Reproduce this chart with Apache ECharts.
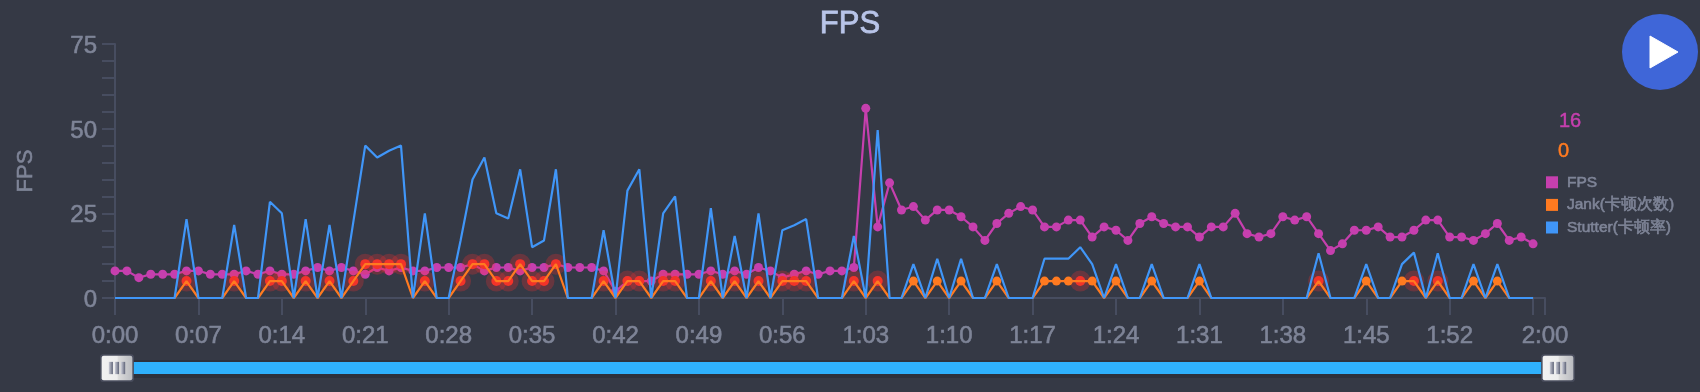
<!DOCTYPE html>
<html><head><meta charset="utf-8">
<style>html,body{margin:0;padding:0;background:#353945}#c{width:1700px;height:392px}</style>
<script src="https://cdn.jsdelivr.net/npm/echarts@6/dist/echarts.min.js"></script>
</head><body><div id="c"></div>
<script>
const tickLabels = Array.from({length:121},(_,s)=>Math.floor(s/60)+':'+String(s%60).padStart(2,'0'));
const fps = [8,8,6,7,7,7,8,8,7,7,7,8,7,8,7,7,8,9,8,9,8,7,9,8,9,8,8,9,9,9,10,8,9,9,8,9,9,10,9,9,9,8,2,5,5,5,7,7,7,7,8,7,8,7,9,8,6,7,8,7,8,8,9,56,21,34,26,27,23,26,26,24,21,17,22,25,27,26,21,21,23,23,18,21,20,17,22,24,22,21,21,18,21,21,25,19,18,19,24,23,24,19,14,16,20,20,21,18,18,20,23,23,18,18,17,19,22,17,18,16];
const jank = [0,0,0,0,0,0,5,0,0,0,5,0,0,5,5,0,5,0,5,0,5,10,10,10,10,0,5,0,0,5,10,10,5,5,10,5,5,10,0,0,0,5,0,5,5,0,5,5,0,0,5,0,5,0,5,0,5,5,5,0,0,0,5,0,5,0,0,5,0,5,0,5,0,0,5,0,0,0,5,5,5,5,5,0,5,0,0,5,0,0,0,5,0,0,0,0,0,0,0,0,0,5,0,0,0,5,0,0,5,5,0,5,0,0,5,0,5,0,0,0];
const stutter = [0,0,0,0,0,0,23.3,0,0,0,21.6,0,0,28.4,25,0,23.3,0,21.6,0,22.5,45,41.5,43.5,45,0,25,0,0,17,35,41.5,25,23.5,38,15,17,38,0,0,0,20,0,31.7,38,0,25,30,0,0,26.5,0,18.3,0,25,0,20,21.5,23.3,0,0,0,18.3,0,49.6,0,0,10,0,11.6,0,11.6,0,0,10,0,0,0,11.6,11.6,11.6,15,10,0,10,0,0,10,0,0,0,10,0,0,0,0,0,0,0,0,0,13.2,0,0,0,10,0,0,10,13.4,0,13.2,0,0,10,0,10,0,0,0];
const severeAfterSpike = [81,101,109,111];
const lastSevere = 64;

const isSevere = i => jank[i]>0 && (i<=lastSevere || severeAfterSpike.includes(i));
const severePts = jank.map((v,i)=>[i,v]).filter(p=>isSevere(p[0]));
const plainPts = jank.map((v,i)=>[i,v]).filter(p=>p[1]>0 && !isSevere(p[0]));

const C = {fps:'#c63fae', jank:'#ff7a20', stutter:'#4096f8', axis:'#474d60', text:'#7e8497', bg:'#353945'};
const FONT = '"Liberation Sans",sans-serif';

const handleSvg = `<svg xmlns="http://www.w3.org/2000/svg" width="34" height="28" viewBox="0 0 34 28"><defs><linearGradient id="g" x1="0" x2="1" y1="0" y2="0"><stop offset="0" stop-color="#f2f2f2"/><stop offset=".5" stop-color="#ededed"/><stop offset=".55" stop-color="#dcdcdc"/><stop offset="1" stop-color="#b9bbc0"/></linearGradient><linearGradient id="b" x1="0" x2="1" y1="0" y2="0"><stop offset="0" stop-color="#c9cbd6"/><stop offset="1" stop-color="#5f6478"/></linearGradient></defs><rect x="0.5" y="0.5" width="33" height="27" rx="3" fill="#4a4e5e"/><rect x="2" y="2" width="30" height="24" rx="2" fill="url(#g)"/><rect x="9" y="8" width="4" height="12" fill="url(#b)"/><rect x="15" y="8" width="4" height="12" fill="url(#b)"/><rect x="21" y="8" width="4" height="12" fill="url(#b)"/></svg>`;

const chart = echarts.init(document.getElementById('c'));
chart.setOption({
  animation:false,
  backgroundColor:C.bg,
  textStyle:{fontFamily:FONT},
  title:{text:'FPS',left:'center',top:4,textStyle:{color:'#b8c4e8',fontSize:31,fontWeight:'normal',fontFamily:FONT,textBorderColor:'#b8c4e8',textBorderWidth:0.8}},
  grid:{left:115,right:155,top:44,height:254},
  legend:{orient:'vertical',left:1541,top:169,itemWidth:12,itemHeight:12,itemGap:6,icon:'rect',
    data:['FPS','Jank(卡顿次数)','Stutter(卡顿率)'],
    textStyle:{color:C.text,fontSize:15.5,fontWeight:'normal',textBorderColor:C.text,textBorderWidth:0.6,padding:[0,0,0,4]}},
  xAxis:{type:'category',boundaryGap:false,data:tickLabels,
    axisLine:{lineStyle:{color:C.axis,width:2}},
    axisTick:{show:true,length:17,alignWithLabel:true,lineStyle:{color:C.axis,width:2},interval:i=>i%7===0||i===120},
    axisLabel:{color:C.text,fontSize:24,margin:26,textBorderColor:C.text,textBorderWidth:0.6,hideOverlap:false,showMaxLabel:true,interval:i=>(i%7===0&&i!==119)||i===120}},
  yAxis:{type:'value',min:0,max:75,interval:25,name:'FPS',nameLocation:'middle',nameGap:78,
    nameTextStyle:{color:C.text,fontSize:22,textBorderColor:C.text,textBorderWidth:0.6},
    axisLine:{show:true,lineStyle:{color:C.axis,width:2}},
    axisTick:{show:true,length:13,lineStyle:{color:C.axis,width:2}},
    minorTick:{show:true,splitNumber:5,length:13,lineStyle:{color:C.axis,width:2}},
    splitLine:{show:false},
    axisLabel:{margin:18,formatter:'{n|{value}}',rich:{n:{color:C.text,fontSize:24,fontFamily:FONT,textBorderColor:C.text,textBorderWidth:0.6,padding:[5,0,0,0]}}}},
  dataZoom:[{type:'slider',xAxisIndex:0,start:0,end:100,left:115,width:1443,top:362,height:12,
    showDetail:false,showDataShadow:false,brushSelect:false,
    borderColor:'transparent',backgroundColor:'transparent',fillerColor:'#2fb0fb',
    moveHandleSize:0,handleSize:'290%',handleIcon:'image://data:image/svg+xml;charset=utf-8,'+encodeURIComponent(handleSvg),
    handleStyle:{opacity:1}}],
  graphic:[
    {type:'rect',z:0,shape:{x:116,y:360,width:1442,height:18},style:{fill:'#2d303b'}},
    {type:'circle',z:10,shape:{cx:1660,cy:52,r:38},style:{fill:'#3f66d8'}},
    {type:'polygon',z:11,shape:{points:[[1650,36],[1678,52],[1650,68]]},style:{fill:'#ffffff',stroke:'#ffffff',lineWidth:1,lineJoin:'round'}},
    {type:'text',z:10,style:{x:1559,y:121,text:String(fps[fps.length-1]),fill:C.fps,stroke:C.fps,lineWidth:0.5,fontSize:20,fontFamily:FONT,verticalAlign:'middle'}},
    {type:'text',z:10,style:{x:1558,y:151,text:String(jank[jank.length-1]),fill:C.jank,stroke:C.jank,lineWidth:0.5,fontSize:20,fontFamily:FONT,verticalAlign:'middle'}}
  ],
  series:[
    {name:'FPS',type:'line',data:fps,symbol:'circle',symbolSize:9,showAllSymbol:true,itemStyle:{color:C.fps},lineStyle:{color:C.fps,width:2.2},z:2},
    {name:'halo',type:'scatter',data:severePts,symbol:'circle',symbolSize:21,itemStyle:{color:'#ff3030',opacity:.25},z:3},
    {name:'core',type:'scatter',data:severePts,symbol:'circle',symbolSize:10,itemStyle:{color:'#f23329',opacity:1},z:3},
    {name:'Jank(卡顿次数)',type:'line',data:jank,symbol:'none',itemStyle:{color:C.jank},lineStyle:{color:C.jank,width:2.2},z:4},
    {name:'dots',type:'scatter',data:plainPts,symbol:'circle',symbolSize:9,itemStyle:{color:C.jank,opacity:1},z:4},
    {name:'Stutter(卡顿率)',type:'line',data:stutter,symbol:'none',itemStyle:{color:C.stutter},lineStyle:{color:C.stutter,width:2.2},z:5}
  ]
});
</script></body></html>
